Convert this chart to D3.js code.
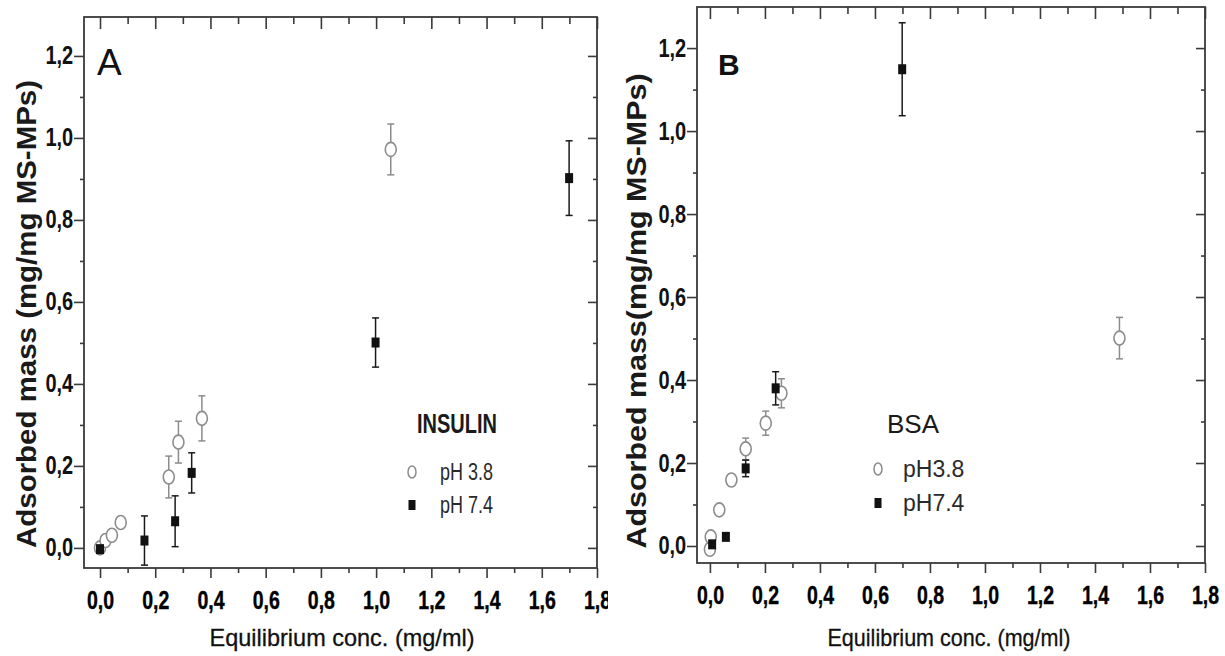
<!DOCTYPE html>
<html>
<head>
<meta charset="utf-8">
<script src="https://cdn.jsdelivr.net/npm/d3@7"></script>
<style>
  body { margin: 0; background: #fff; }
  svg { display: block; font-family: "Liberation Sans", Arial, sans-serif; }
</style>
</head>
<body>
<script>
// Tick values (both panels)
const xMajor = [0, 0.2, 0.4, 0.6, 0.8, 1.0, 1.2, 1.4, 1.6, 1.8];
const xMinor = [0.1, 0.3, 0.5, 0.7, 0.9, 1.1, 1.3, 1.5, 1.7];
const yMajor = [0, 0.2, 0.4, 0.6, 0.8, 1.0, 1.2];
const yMinor = [0.1, 0.3, 0.5, 0.7, 0.9, 1.1];

// Panel A - insulin
const insX38 = [0, 0.02, 0.043, 0.075, 0.249, 0.284, 0.369, 1.053];
const insY38 = [0, 0.018, 0.031, 0.062, 0.173, 0.258, 0.316, 0.972];
const insE38 = [0, 0, 0, 0, 0.051, 0.051, 0.055, 0.062];
const insX74 = [0, 0.161, 0.272, 0.332, 0.998, 1.699];
const insY74 = [-0.003, 0.018, 0.065, 0.183, 0.501, 0.902];
const insE74 = [0, 0.06, 0.062, 0.049, 0.06, 0.091];

// Panel B - BSA
const bsaX38 = [0, 0.003, 0.034, 0.078, 0.13, 0.203, 0.26, 1.489];
const bsaY38 = [-0.008, 0.022, 0.087, 0.159, 0.234, 0.296, 0.368, 0.501];
const bsaE38 = [0, 0.01, 0.012, 0.012, 0.026, 0.029, 0.035, 0.05];
const bsaX74 = [0.008, 0.058, 0.13, 0.239, 0.699];
const bsaY74 = [0.004, 0.022, 0.187, 0.38, 1.149];
const bsaE74 = [0, 0, 0.02, 0.04, 0.112];

const fmt = d => d3.format(".1f")(d).replace(".", ",");
const zip = (xs, ys, es) => xs.map((x, i) => ({ x: x, y: ys[i], e: es[i] }));

const svg = d3.select("body").append("svg")
  .attr("width", 1225)
  .attr("height", 656);

svg.append("defs").append("clipPath").attr("id", "clipA")
  .append("rect").attr("x", 0).attr("y", 0).attr("width", 608).attr("height", 656);

const panels = [
  {
    clip: "url(#clipA)",
    left: 84, right: 597, top: 17, bottom: 568,
    xDomain: [-0.058, 1.8], yDomain: [-0.049, 1.295],
    open: zip(insX38, insY38, insE38),
    filled: zip(insX74, insY74, insE74),
    letter: "A", letterX: 97, letterSize: 37, letterWeight: "normal",
    yTitle: "Adsorbed mass (mg/mg MS-MPs)", yTitleX: 26, yTitleY: 314, yTitleLen: 468,
    xTitleX: 342, xTitleLen: 265,
    legTitle: "INSULIN", legTitleX: 417, legTitleY: 433, legTitleBold: true, legTitleLen: 80,
    legMarkX: 412, legY1: 472, legY2: 505, legTextX: 440,
    legText: ["pH 3.8", "pH 7.4"], legTextLen: 53
  },
  {
    clip: null,
    left: 697, right: 1205, top: 7, bottom: 563,
    xDomain: [-0.047, 1.8], yDomain: [-0.041, 1.299],
    open: zip(bsaX38, bsaY38, bsaE38),
    filled: zip(bsaX74, bsaY74, bsaE74),
    letter: "B", letterX: 718, letterSize: 30, letterWeight: "bold",
    yTitle: "Adsorbed mass(mg/mg MS-MPs)", yTitleX: 636, yTitleY: 311, yTitleLen: 475,
    xTitleX: 949, xTitleLen: 243,
    legTitle: "BSA", legTitleX: 887, legTitleY: 433, legTitleBold: false, legTitleLen: null,
    legMarkX: 878, legY1: 469, legY2: 503, legTextX: 903,
    legText: ["pH3.8", "pH7.4"], legTextLen: null
  }
];

const frameColor = "#3a3a3a";
const openColor = "#8c8c8c";

panels.forEach(p => {
  const g = svg.append("g");
  if (p.clip) g.attr("clip-path", p.clip);

  const x = d3.scaleLinear().domain(p.xDomain).range([p.left, p.right]);
  const y = d3.scaleLinear().domain(p.yDomain).range([p.bottom, p.top]);

  // axes: bottom/left outward with labels, top/right inward
  const bottomAx = g.append("g").attr("transform", `translate(0,${p.bottom})`)
    .call(d3.axisBottom(x).tickValues(xMajor).tickSize(10).tickFormat(fmt));
  g.append("g").attr("transform", `translate(0,${p.bottom})`)
    .call(d3.axisBottom(x).tickValues(xMinor).tickSize(5).tickFormat(""));
  g.append("g").attr("transform", `translate(0,${p.top})`)
    .call(d3.axisTop(x).tickValues(xMajor).tickSize(-12).tickFormat(""));
  g.append("g").attr("transform", `translate(0,${p.top})`)
    .call(d3.axisTop(x).tickValues(xMinor).tickSize(-7).tickFormat(""));

  const leftAx = g.append("g").attr("transform", `translate(${p.left},0)`)
    .call(d3.axisLeft(y).tickValues(yMajor).tickSize(10).tickFormat(fmt));
  g.append("g").attr("transform", `translate(${p.left},0)`)
    .call(d3.axisLeft(y).tickValues(yMinor).tickSize(4).tickFormat(""));
  g.append("g").attr("transform", `translate(${p.right},0)`)
    .call(d3.axisRight(y).tickValues(yMajor).tickSize(-9).tickFormat(""));
  g.append("g").attr("transform", `translate(${p.right},0)`)
    .call(d3.axisRight(y).tickValues(yMinor).tickSize(-4).tickFormat(""));

  g.selectAll(".domain").remove();
  g.selectAll(".tick line").attr("stroke", frameColor).attr("stroke-width", 1.6);

  bottomAx.selectAll("text")
    .attr("y", 23)
    .attr("font-size", 25)
    .attr("font-weight", "bold")
    .attr("fill", "#000")
    .attr("stroke", "#000").attr("stroke-width", 0.4)
    .attr("transform", "scale(0.78,1)");
  leftAx.selectAll("text")
    .attr("x", -13.5)
    .attr("font-size", 25)
    .attr("font-weight", "bold")
    .attr("fill", "#111")
    .attr("transform", "scale(0.8,1)");

  // frame
  g.append("rect")
    .attr("x", p.left).attr("y", p.top)
    .attr("width", p.right - p.left).attr("height", p.bottom - p.top)
    .attr("fill", "none").attr("stroke", frameColor).attr("stroke-width", 1.8);

  // error bars + markers
  const drawErr = (data, color) => {
    const eg = g.append("g").attr("stroke", color).attr("stroke-width", 1.5).attr("fill", "none");
    data.filter(d => d.e > 0).forEach(d => {
      const cx = x(d.x), y1 = y(d.y - d.e), y2 = y(d.y + d.e);
      eg.append("line").attr("x1", cx).attr("x2", cx).attr("y1", y1).attr("y2", y2);
      eg.append("line").attr("x1", cx - 3.5).attr("x2", cx + 3.5).attr("y1", y1).attr("y2", y1);
      eg.append("line").attr("x1", cx - 3.5).attr("x2", cx + 3.5).attr("y1", y2).attr("y2", y2);
    });
  };

  drawErr(p.open, openColor);
  g.append("g").selectAll("ellipse").data(p.open).join("ellipse")
    .attr("cx", d => x(d.x)).attr("cy", d => y(d.y))
    .attr("rx", 5.5).attr("ry", 7)
    .attr("fill", "#fff").attr("stroke", openColor).attr("stroke-width", 1.6);

  drawErr(p.filled, "#1a1a1a");
  g.append("g").selectAll("rect").data(p.filled).join("rect")
    .attr("x", d => x(d.x) - 4).attr("y", d => y(d.y) - 5)
    .attr("width", 8).attr("height", 10)
    .attr("fill", "#111");

  // panel letter
  g.append("text")
    .attr("x", p.letterX).attr("y", 75)
    .attr("font-size", p.letterSize).attr("font-weight", p.letterWeight)
    .attr("fill", "#111")
    .text(p.letter);

  // axis titles
  g.append("text")
    .attr("transform", `translate(${p.yTitleX},${p.yTitleY}) rotate(-90)`)
    .attr("text-anchor", "middle").attr("dy", "0.35em")
    .attr("font-size", 28).attr("font-weight", "bold").attr("fill", "#1a1a1a")
    .attr("textLength", p.yTitleLen).attr("lengthAdjust", "spacingAndGlyphs")
    .text(p.yTitle);

  g.append("text")
    .attr("x", p.xTitleX).attr("y", 646)
    .attr("text-anchor", "middle")
    .attr("font-size", 24).attr("fill", "#111")
    .attr("stroke", "#111").attr("stroke-width", 0.3)
    .attr("textLength", p.xTitleLen).attr("lengthAdjust", "spacingAndGlyphs")
    .text("Equilibrium conc. (mg/ml)");

  // legend
  const lt = g.append("text")
    .attr("x", p.legTitleX).attr("y", p.legTitleY)
    .attr("font-size", p.legTitleBold ? 27 : 26)
    .attr("font-weight", p.legTitleBold ? "bold" : "normal")
    .attr("fill", "#1a1a1a")
    .text(p.legTitle);
  if (p.legTitleLen) lt.attr("textLength", p.legTitleLen).attr("lengthAdjust", "spacingAndGlyphs");

  g.append("ellipse")
    .attr("cx", p.legMarkX).attr("cy", p.legY1)
    .attr("rx", 4).attr("ry", 6)
    .attr("fill", "#fff").attr("stroke", openColor).attr("stroke-width", 1.5);
  g.append("rect")
    .attr("x", p.legMarkX - 3.5).attr("y", p.legY2 - 5)
    .attr("width", 7).attr("height", 10)
    .attr("fill", "#111");

  [p.legY1, p.legY2].forEach((ly, i) => {
    const t = g.append("text")
      .attr("x", p.legTextX).attr("y", ly + 8)
      .attr("font-size", 23).attr("fill", "#2a2a2a")
      .text(p.legText[i]);
    if (p.legTextLen) t.attr("textLength", p.legTextLen).attr("lengthAdjust", "spacingAndGlyphs");
  });
});
</script>
</body>
</html>
